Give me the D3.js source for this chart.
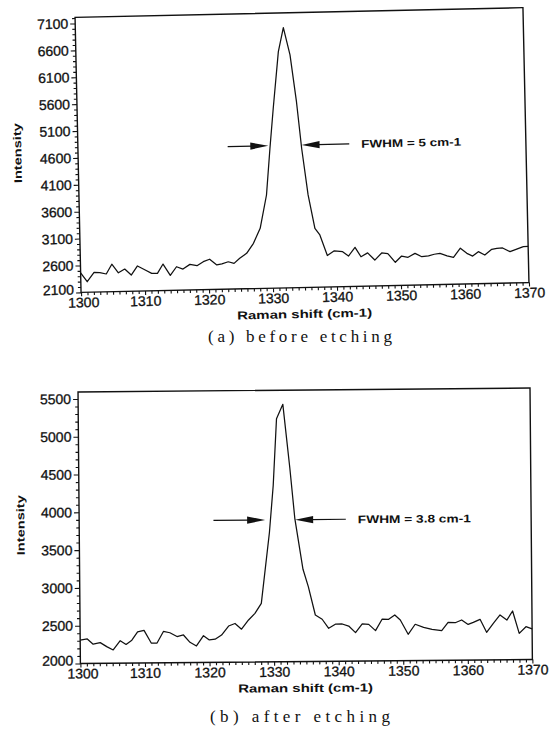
<!DOCTYPE html>
<html>
<head>
<meta charset="utf-8">
<script src="https://cdn.jsdelivr.net/npm/d3@7"></script>
<style>
  html, body { margin: 0; padding: 0; background: #fff; }
  svg { display: block; }
  .tick text { font-family: "Liberation Sans", Arial, sans-serif; font-size: 14px; fill: #111; stroke: #111; stroke-width: 0.3px; }
  .tick line { stroke: #111; stroke-width: 1.1px; }
</style>
</head>
<body>
<svg id="chart" width="558" height="729"></svg>
<script>
// Raman spectra of the diamond film, (a) before and (b) after etching.

// spectrum (a): Raman shift (cm-1) and intensity
const shiftA = [1300, 1301, 1302.1, 1303, 1304, 1304.9, 1305.9, 1306.9, 1307.9, 1308.9,
  1310.1, 1311.1, 1312, 1312.9, 1314, 1315, 1316, 1317.1, 1318.2, 1319.2,
  1320.2, 1321.3, 1322.1, 1323.1, 1324, 1324.9, 1326, 1327.1, 1328.2, 1329.3,
  1330, 1330.65, 1331.64, 1332.5, 1333.45, 1334.3, 1334.95, 1335.8, 1336.75, 1337.5,
  1338.6, 1339.7, 1341, 1341.9, 1342.95, 1343.85, 1344.9, 1346, 1347.1, 1348.05,
  1349.2, 1350.2, 1351.2, 1352.3, 1353.35, 1354.4, 1355.3, 1356.2, 1357.3, 1358.3,
  1359.4, 1360.4, 1361.3, 1362.2, 1363.2, 1364.3, 1365.1, 1366, 1367.15, 1368.2,
  1369.25, 1370];
const intensityA = [2464, 2295, 2466, 2457, 2431, 2611, 2449, 2516, 2401, 2568,
  2490, 2425, 2423, 2593, 2379, 2537, 2492, 2576, 2548, 2620,
  2663, 2555, 2572, 2609, 2576, 2668, 2758, 2942, 3217, 3834,
  4701, 5443, 6493, 6937, 6428, 5556, 4688, 3818, 3195, 3070,
  2685, 2770, 2749, 2667, 2825, 2648, 2717, 2581, 2710, 2697,
  2531, 2645, 2619, 2689, 2624, 2637, 2665, 2680, 2630, 2600,
  2766, 2669, 2615, 2695, 2630, 2734, 2750, 2754, 2682, 2728,
  2771, 2771];

// spectrum (b)
const shiftB = [1300, 1301.1, 1302, 1303.1, 1304.1, 1305.1, 1306.2, 1307.1, 1308, 1308.9,
  1309.9, 1311, 1311.9, 1312.9, 1313.9, 1315, 1316, 1317, 1318, 1319.1,
  1320, 1320.9, 1321.9, 1323, 1324, 1325, 1326.1, 1327.1, 1328.1, 1329.45,
  1330.1, 1330.7, 1331.7, 1332.7, 1333.4, 1334.6, 1335.4, 1336.45, 1337.5, 1338.5,
  1339.6, 1340.6, 1341.6, 1342.65, 1343.7, 1344.7, 1345.75, 1346.8, 1347.8, 1348.75,
  1349.6, 1350.8, 1351.9, 1353.2, 1354.5, 1356, 1357, 1358.1, 1359.1, 1360.1,
  1360.9, 1361.95, 1362.95, 1364, 1365.05, 1366.1, 1367, 1368, 1369.05, 1370];
const intensityB = [2310, 2323, 2253, 2273, 2220, 2175, 2296, 2246, 2302, 2410,
  2430, 2262, 2261, 2414, 2396, 2345, 2365, 2267, 2218, 2353,
  2296, 2305, 2360, 2478, 2511, 2435, 2556, 2643, 2775, 3711,
  4332, 5215, 5405, 4558, 3896, 3220, 2990, 2614, 2557, 2437,
  2492, 2492, 2464, 2376, 2490, 2484, 2400, 2553, 2549, 2605,
  2538, 2348, 2480, 2439, 2411, 2392, 2501, 2496, 2531, 2472,
  2499, 2538, 2365, 2484, 2593, 2525, 2644, 2348, 2435, 2405];

// axis ticks
const xTicks = [1300, 1310, 1320, 1330, 1340, 1350, 1360, 1370];
const yTicksA = [2100, 2600, 3100, 3600, 4100, 4600, 5100, 5600, 6100, 6600, 7100];
const yTicksB = [2000, 2500, 3000, 3500, 4000, 4500, 5000, 5500];

// FWHM markers: [left arrow start, left tip, right tip, right arrow end] in cm-1, at half height
const arrowsA = [1323.4, 1329.75, 1334.95, 1342.4];
const halfA = 4750;
const arrowsB = [1320.8, 1328.8, 1333.45, 1341.3];
const halfB = 3877;
const fwhmText = ["FWHM = 5 cm-1", "FWHM = 3.8 cm-1"];
const captions = ["(a) before etching", "(b) after etching"];

const svg = d3.select("#chart");
svg.append("rect").attr("width", 558).attr("height", 729).attr("fill", "#fff");

const sans = '"Liberation Sans", Arial, Helvetica, sans-serif';

function drawPanel(p) {
  const g = svg.append("g")
    .attr("transform", `rotate(${p.tilt},${(p.left + p.right) / 2},${(p.top + p.bottom) / 2})`);

  const x = d3.scaleLinear().domain([1300, 1370]).range([p.left, p.right]);
  const y = d3.scaleLinear().domain(p.yDomain).range([p.bottom, p.top]);

  // minor ticks
  const minorX = d3.range(1300, 1371, 1).filter(v => v % 10 !== 0);
  const minorY = d3.range(p.yDomain[0], p.yDomain[1], 100).filter(v => !p.yTicks.includes(v));

  g.append("g").attr("transform", `translate(0,${p.bottom})`)
    .call(d3.axisBottom(x).tickValues(minorX).tickSize(3).tickFormat(""))
    .call(s => s.select(".domain").remove());
  g.append("g").attr("transform", `translate(${p.left},0)`)
    .call(d3.axisLeft(y).tickValues(minorY).tickSize(3).tickFormat(""))
    .call(s => s.select(".domain").remove());

  // major ticks with labels
  g.append("g").attr("transform", `translate(0,${p.bottom})`)
    .call(d3.axisBottom(x).tickValues(xTicks).tickSize(4).tickPadding(0).tickFormat(d3.format("d")))
    .call(s => s.select(".domain").remove())
    .call(s => s.selectAll("text").attr("dy", null).attr("y", 15)
      .attr("dx", d => d === xTicks[0] ? 2 : 0));
  g.append("g").attr("transform", `translate(${p.left},0)`)
    .call(d3.axisLeft(y).tickValues(p.yTicks).tickSize(5).tickPadding(2).tickFormat(d3.format("d")))
    .call(s => s.select(".domain").remove())
    .call(s => s.selectAll("text").filter(d => d === p.yTicks[0]).attr("y", -3));

  // frame
  g.append("rect")
    .attr("x", p.left).attr("y", p.top)
    .attr("width", p.right - p.left).attr("height", p.bottom - p.top)
    .attr("fill", "none").attr("stroke", "#111").attr("stroke-width", 1.4);

  // spectrum
  const line = d3.line().x(d => x(d[0])).y(d => y(d[1]));
  g.append("path")
    .datum(p.shift.map((s, i) => [s, p.intensity[i]]))
    .attr("d", line)
    .attr("fill", "none").attr("stroke", "#111").attr("stroke-width", 1.25)
    .attr("stroke-linejoin", "round");

  // FWHM arrows
  const ya = y(p.half);
  const [a0, a1, a2, a3] = p.arrows.map(x);
  const headL = 18, headW = 3.6;
  g.append("line").attr("x1", a0).attr("x2", a1 - headL + 2).attr("y1", ya).attr("y2", ya)
    .attr("stroke", "#111").attr("stroke-width", 1.2);
  g.append("path").attr("d", `M${a1},${ya}L${a1 - headL},${ya - headW}L${a1 - headL},${ya + headW}Z`)
    .attr("fill", "#111");
  g.append("line").attr("x1", a2 + headL - 2).attr("x2", a3).attr("y1", ya).attr("y2", ya)
    .attr("stroke", "#111").attr("stroke-width", 1.2);
  g.append("path").attr("d", `M${a2},${ya}L${a2 + headL},${ya - headW}L${a2 + headL},${ya + headW}Z`)
    .attr("fill", "#111");
  g.append("text")
    .attr("x", a3 + 12).attr("y", ya + 4)
    .attr("font-family", sans).attr("font-size", 11).attr("font-weight", "bold")
    .attr("fill", "#111")
    .attr("textLength", p.fwhmWidth).attr("lengthAdjust", "spacingAndGlyphs")
    .text(p.fwhm);

  // axis titles
  g.append("text")
    .attr("transform", `translate(${p.left - p.yTitleOffset},${(p.top + p.bottom) / 2 - 3}) rotate(-90)`)
    .attr("text-anchor", "middle")
    .attr("font-family", sans).attr("font-size", 11).attr("font-weight", "bold").attr("fill", "#111")
    .attr("textLength", 60).attr("lengthAdjust", "spacingAndGlyphs")
    .text("Intensity");
  g.append("text")
    .attr("x", (p.left + p.right) / 2 - 1).attr("y", p.bottom + 30.5)
    .attr("text-anchor", "middle")
    .attr("font-family", sans).attr("font-size", 11.5).attr("font-weight", "bold").attr("fill", "#111")
    .attr("textLength", 135).attr("lengthAdjust", "spacingAndGlyphs")
    .text("Raman shift (cm-1)");

  // caption
  svg.append("text")
    .attr("x", 300).attr("y", p.captionY)
    .attr("text-anchor", "middle")
    .attr("font-family", '"Liberation Serif", "Times New Roman", serif')
    .attr("font-size", 17).attr("fill", "#111")
    .attr("textLength", p.captionWidth).attr("lengthAdjust", "spacing")
    .text(p.caption);
}

drawPanel({
  left: 78, right: 526, top: 12.5, bottom: 287.5, tilt: -1.25,
  yDomain: [2100, 7212], yTicks: yTicksA,
  shift: shiftA, intensity: intensityA,
  arrows: arrowsA, half: halfA, fwhm: fwhmText[0], fwhmWidth: 100,
  yTitleOffset: 56.7,
  caption: captions[0], captionY: 342, captionWidth: 184
});

drawPanel({
  left: 79.2, right: 531.2, top: 390, bottom: 661.5, tilt: -0.5,
  yDomain: [2000, 5592], yTicks: yTicksB,
  shift: shiftB, intensity: intensityB,
  arrows: arrowsB, half: halfB, fwhm: fwhmText[1], fwhmWidth: 113,
  yTitleOffset: 54.8,
  caption: captions[1], captionY: 722, captionWidth: 180
});
</script>
</body>
</html>
